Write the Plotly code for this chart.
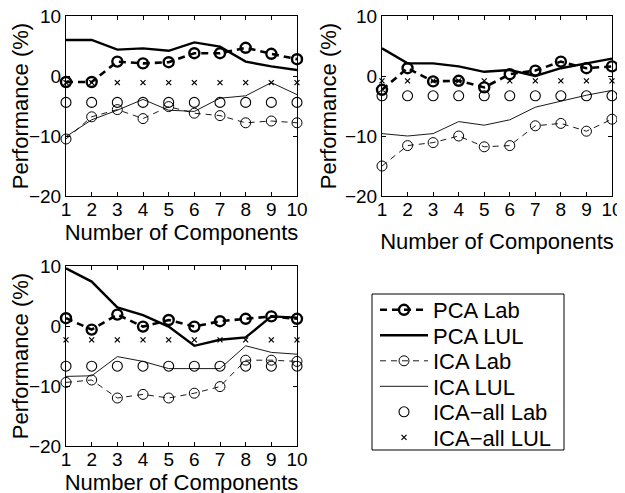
import plotly.graph_objects as go

components = [1, 2, 3, 4, 5, 6, 7, 8, 9, 10]

# Panel 1 (top-left)
p1_pca_lab = [-1.0, -1.0, 2.4, 2.1, 2.3, 3.8, 3.8, 4.7, 3.7, 2.8]
p1_pca_lul = [6.0, 6.0, 4.4, 4.6, 4.2, 5.6, 4.9, 2.4, 1.6, 1.0]
p1_ica_lab = [-10.5, -6.8, -5.6, -7.1, -5.1, -6.2, -6.6, -7.8, -7.5, -7.8]
p1_ica_lul = [-10.1, -7.3, -5.7, -3.9, -5.7, -5.9, -3.7, -3.3, -1.1, -3.1]
p1_icaall_lab = [-4.4] * 10
p1_icaall_lul = [-1.1] * 10

# Panel 2 (top-right)
p2_pca_lab = [-2.3, 1.3, -0.9, -0.8, -1.9, 0.3, 0.9, 2.4, 1.3, 1.6]
p2_pca_lul = [4.6, 2.1, 2.1, 1.6, 0.7, 1.0, 0.0, 1.3, 2.1, 2.9]
p2_ica_lab = [-15.0, -11.6, -11.1, -10.0, -11.8, -11.6, -8.3, -7.9, -9.2, -7.2]
p2_ica_lul = [-9.6, -10.0, -9.6, -7.6, -8.2, -7.3, -5.2, -4.2, -3.2, -2.4]
p2_icaall_lab = [-3.3] * 10
p2_icaall_lul = [-0.8] * 10

# Panel 3 (bottom-left)
p3_pca_lab = [1.3, -0.6, 1.9, -0.1, 1.0, -0.1, 0.8, 1.2, 1.6, 1.2]
p3_pca_lul = [9.6, 7.4, 3.1, 1.8, -0.1, -3.3, -2.3, -1.9, 1.6, 1.4]
p3_ica_lab = [-9.4, -9.0, -12.0, -11.4, -12.0, -11.2, -10.1, -5.7, -5.7, -5.9]
p3_ica_lul = [-8.4, -8.3, -5.1, -5.9, -7.1, -7.1, -7.1, -3.3, -4.4, -4.7]
p3_icaall_lab = [-6.7] * 10
p3_icaall_lul = [-2.3] * 10

series_names = ["PCA Lab", "PCA LUL", "ICA Lab", "ICA LUL", "ICA\u2212all Lab", "ICA\u2212all LUL"]
panels = [
    [p1_pca_lab, p1_pca_lul, p1_ica_lab, p1_ica_lul, p1_icaall_lab, p1_icaall_lul],
    [p2_pca_lab, p2_pca_lul, p2_ica_lab, p2_ica_lul, p2_icaall_lab, p2_icaall_lul],
    [p3_pca_lab, p3_pca_lul, p3_ica_lab, p3_ica_lul, p3_icaall_lab, p3_icaall_lul],
]

styles = [
    dict(mode="lines+markers", line=dict(color="black", width=2.6, dash="7px,5px"),
         marker=dict(symbol="circle-open", size=10, color="black", line=dict(width=2.4))),
    dict(mode="lines", line=dict(color="black", width=2.4)),
    dict(mode="lines+markers", line=dict(color="black", width=0.9, dash="6px,5px"),
         marker=dict(symbol="circle-open", size=10, color="black", line=dict(width=1))),
    dict(mode="lines", line=dict(color="black", width=0.9)),
    dict(mode="markers", marker=dict(symbol="circle-open", size=10, color="black", line=dict(width=1.1))),
    dict(mode="markers", marker=dict(symbol="x-thin-open", size=5, color="black", line=dict(width=1.2))),
]

FONT = "Liberation Sans, Arial, Helvetica, sans-serif"
W, H = 625, 493
OFF = 8  # page body margin


def px_x(v):
    return (v - OFF) / W


def px_y(v):
    return 1 - (v - OFF) / H


legend_ids = ["legend", "legend2", "legend3", "legend4", "legend5", "legend6"]

fig = go.Figure()
axis_ids = [("x", "y"), ("x2", "y2"), ("x3", "y3")]
for pi, (data, (xa, ya)) in enumerate(zip(panels, axis_ids)):
    for si, (name, vals) in enumerate(zip(series_names, data)):
        fig.add_trace(go.Scatter(
            x=components, y=vals, name=name, xaxis=xa, yaxis=ya,
            legend=legend_ids[si], legendgroup=name, showlegend=(pi == 0),
            cliponaxis=False, **styles[si]))

x_domains = [[px_x(66), px_x(297)], [px_x(382), px_x(612)], [px_x(66), px_x(297)]]
y_domains = [[px_y(196), px_y(16)], [px_y(196), px_y(16)], [px_y(446), px_y(266)]]
x_standoffs = [0, 14, 0]

common_axis = dict(showline=True, linecolor="black", linewidth=1, mirror="allticks",
                   ticks="inside", ticklen=4, tickcolor="black", showgrid=False,
                   zeroline=False, automargin=False, ticklabeloverflow="allow",
                   tickfont=dict(family=FONT, size=19, color="black"))

layout = dict(
    width=W, height=H, autosize=False,
    margin=dict(l=0, r=0, t=0, b=0),
    paper_bgcolor="white", plot_bgcolor="white",
    font=dict(family=FONT, color="black"),
    showlegend=True,
    shapes=[dict(type="rect", xref="paper", yref="paper",
                 x0=px_x(372), x1=px_x(564), y0=px_y(450), y1=px_y(294),
                 line=dict(color="black", width=1), fillcolor="white", layer="below")],
)

row_centers = [310, 335.5, 361, 386.5, 412, 437.5]
for lid, yc in zip(legend_ids, row_centers):
    layout[lid] = dict(x=px_x(375), y=px_y(yc), xanchor="left", yanchor="middle",
                       bgcolor="rgba(0,0,0,0)", borderwidth=0,
                       font=dict(family=FONT, size=22, color="black"),
                       itemwidth=48)

for i in range(3):
    sx = "" if i == 0 else str(i + 1)
    layout["xaxis" + sx] = dict(
        common_axis, domain=x_domains[i], range=[1, 10], tickvals=components,
        anchor="y" + sx, ticklabelstandoff=-4,
        title=dict(text="Number of Components", font=dict(family=FONT, size=22),
                   standoff=x_standoffs[i]))
    layout["yaxis" + sx] = dict(
        common_axis, domain=y_domains[i], range=[-20, 10], tickvals=[-20, -10, 0, 10],
        ticktext=["\u221220", "\u221210", "0", "10"], anchor="x" + sx,
        title=dict(text="Performance (%)", font=dict(family=FONT, size=22), standoff=2))

fig.update_layout(**layout)
fig.write_html("out.html")
